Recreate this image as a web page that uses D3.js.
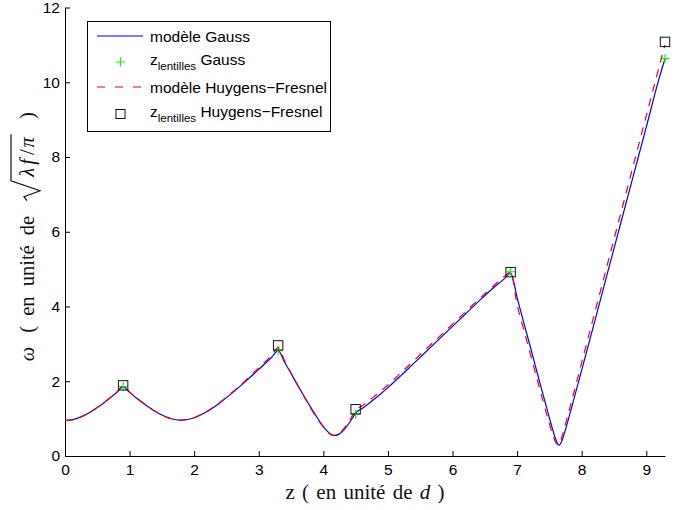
<!DOCTYPE html>
<html><head><meta charset="utf-8">
<script src="https://cdn.jsdelivr.net/npm/d3@7"></script>
<style>body{margin:0;background:#fff} svg{display:block} text{white-space:pre}</style>
</head><body><svg id="c" width="687" height="510"></svg>
<script>
// ---- data ----
const gaussZ = [0,0.1,0.2,0.3,0.4,0.5,0.6,0.7,0.8,0.9,
  1.0,1.1,1.2,1.3,1.4,1.5,1.6,1.7,1.8,1.9,2.0,2.2,2.4,2.6,2.8,3.0,3.2,3.3,
  3.4,3.5,3.6,3.7,3.8,3.9,4.0,4.05,4.1,4.15,4.18,4.25,4.3,4.35,4.4,4.45,4.5,
  4.6,4.7,4.8,4.9,5.0,5.2,5.4,5.6,5.8,6.0,6.2,6.4,6.6,6.8,6.9,
  7.0,7.1,7.2,7.3,7.4,7.5,7.55,7.6,7.65,7.7,7.75,7.8,7.9,8.0,8.2,8.4,8.6,8.8,9.0,9.2,9.29];
const gaussW = [0.95,0.966,1.013,1.087,1.182,1.295,1.42,1.555,1.697,1.85,
  1.703,1.561,1.427,1.302,1.19,1.095,1.022,0.976,0.96,0.976,1.022,1.19,1.427,1.703,2.003,2.318,2.642,2.82,
  2.51,2.207,1.904,1.606,1.315,1.038,0.789,0.685,0.605,0.558,0.55,0.592,0.667,0.767,0.883,1.011,1.15,
  1.27,1.40,1.54,1.68,1.83,2.15,2.48,2.81,3.14,3.47,3.80,4.13,4.45,4.74,4.90,
  4.24,3.59,2.95,2.30,1.655,1.02,0.713,0.436,0.29,0.436,0.713,1.02,1.655,2.30,3.59,4.90,6.20,7.50,8.80,10.11,10.63];

const hfZ = [0,0.1,0.2,0.3,0.4,0.5,0.6,0.7,0.8,0.9,
  1.0,1.1,1.2,1.3,1.4,1.5,1.6,1.7,1.8,1.9,2.0,2.2,2.4,2.6,2.8,3.0,3.2,3.3,
  3.4,3.5,3.6,3.7,3.8,3.9,4.0,4.05,4.1,4.15,4.2,4.25,4.3,4.35,4.4,4.45,4.5,
  4.6,4.7,4.8,4.9,5.0,5.2,5.4,5.6,5.8,6.0,6.2,6.4,6.6,6.8,6.9,
  7.0,7.1,7.2,7.3,7.4,7.5,7.55,7.6,7.63,7.67,7.7,7.75,7.8,7.9,8.0,8.2,8.4,8.6,8.8,9.0,9.2,9.29];
const hfW = [0.95,0.966,1.015,1.09,1.187,1.30,1.43,1.565,1.715,1.87,
  1.71,1.565,1.43,1.305,1.19,1.095,1.02,0.975,0.96,0.977,1.025,1.20,1.44,1.72,2.03,2.36,2.70,2.90,
  2.55,2.22,1.90,1.59,1.29,1.01,0.77,0.67,0.59,0.55,0.56,0.61,0.70,0.81,0.94,1.08,1.22,
  1.34,1.47,1.61,1.75,1.90,2.22,2.55,2.88,3.20,3.53,3.86,4.18,4.50,4.80,4.92,
  4.05,3.40,2.76,2.12,1.48,0.86,0.57,0.36,0.30,0.38,0.55,0.86,1.18,1.84,2.50,3.82,5.14,6.46,7.78,9.10,10.42,11.0];

const lensZ = [0.9, 3.3, 4.5, 6.9, 9.29];
const lensGaussW = [1.86, 2.82, 1.12, 4.93, 10.63];
const lensHFW = [1.89, 2.96, 1.25, 4.92, 11.08];

const xTicks = [0,1,2,3,4,5,6,7,8,9];
const yTicks = [0,2,4,6,8,10,12];
const legendLabels = ["modèle Gauss", "Gauss", "modèle Huygens−Fresnel", "Huygens−Fresnel"];

// ---- layout ----
const sans = "'Liberation Sans', Arial, Helvetica, sans-serif";
const serif = "'Liberation Serif', 'Times New Roman', serif";
const svg = d3.select("#c");
const x = d3.scaleLinear().domain([0, 9.29]).range([65, 665]);
const y = d3.scaleLinear().domain([0, 12]).range([456, 7.5]);

const gx = svg.append("g").attr("transform", `translate(0,${y(0)})`)
  .call(d3.axisBottom(x).tickValues(xTicks).tickFormat(d3.format("d")).tickSizeInner(-5).tickSizeOuter(0).tickPadding(8));
const gy = svg.append("g").attr("transform", `translate(${x(0)},0)`)
  .call(d3.axisLeft(y).tickValues(yTicks).tickFormat(d3.format("d")).tickSizeInner(-5).tickSizeOuter(0).tickPadding(5));
[gx, gy].forEach(g => {
  g.selectAll("text").attr("font-family", sans).attr("font-size", 15.5).attr("fill", "#000");
  g.selectAll("line").attr("stroke", "#000");
  g.select(".domain").attr("stroke", "#000");
});

// ---- curves ----
const line = d3.line().x(d => x(d[0])).y(d => y(d[1])).curve(d3.curveMonotoneX);
const gaussData = gaussZ.map((z, i) => [z, gaussW[i]]);
const hfData = hfZ.map((z, i) => [z, hfW[i]]);

svg.append("path").datum(gaussData).attr("d", line)
  .attr("fill", "none").attr("stroke", "#0000ff").attr("stroke-width", 1.2);

function plus(g, cx, cy, s) {
  g.append("path").attr("d", `M${cx - s},${cy}H${cx + s}M${cx},${cy - s}V${cy + s}`)
    .attr("stroke", "#00ff00").attr("stroke-width", 1.2).attr("fill", "none");
}
const gp = svg.append("g");
lensZ.forEach((z, i) => plus(gp, x(z), y(lensGaussW[i]), 4.5));

svg.append("path").datum(hfData).attr("d", line)
  .attr("fill", "none").attr("stroke", "#ff0000").attr("stroke-width", 1.2)
  .attr("stroke-dasharray", "8,7");

svg.append("g").selectAll("rect").data(lensZ).join("rect")
  .attr("x", (z) => x(z) - 4.7).attr("y", (z, i) => y(lensHFW[i]) - 4.7)
  .attr("width", 9.4).attr("height", 9.4)
  .attr("fill", "none").attr("stroke", "#111").attr("stroke-width", 1);

// ---- legend ----
const lg = svg.append("g");
lg.append("rect").attr("x", 87.5).attr("y", 21.5).attr("width", 243).attr("height", 110)
  .attr("fill", "#fff").attr("stroke", "#000").attr("stroke-width", 1);
lg.append("line").attr("x1", 97).attr("x2", 143).attr("y1", 36).attr("y2", 36)
  .attr("stroke", "#0000ff").attr("stroke-width", 1.2);
lg.append("text").attr("x", 150).attr("y", 41.5).attr("font-family", sans).attr("font-size", 15.5).text(legendLabels[0]);
plus(lg, 120.5, 62, 4.5);
const t2 = lg.append("text").attr("x", 150).attr("y", 64.5).attr("font-family", sans).attr("font-size", 15.5);
t2.append("tspan").text("z");
t2.append("tspan").attr("font-size", 11.5).attr("dy", 5.5).text("lentilles");
t2.append("tspan").attr("dy", -5.5).text(" " + legendLabels[1]);
lg.append("line").attr("x1", 97).attr("x2", 143).attr("y1", 87).attr("y2", 87)
  .attr("stroke", "#ff0000").attr("stroke-width", 1.2).attr("stroke-dasharray", "8,10");
lg.append("text").attr("x", 150).attr("y", 92.5).attr("font-family", sans).attr("font-size", 15.5).text(legendLabels[2]);
lg.append("rect").attr("x", 116).attr("y", 109.5).attr("width", 9).attr("height", 9)
  .attr("fill", "none").attr("stroke", "#111").attr("stroke-width", 1);
const t4 = lg.append("text").attr("x", 150).attr("y", 116.5).attr("font-family", sans).attr("font-size", 15.5);
t4.append("tspan").text("z");
t4.append("tspan").attr("font-size", 11.5).attr("dy", 5.5).text("lentilles");
t4.append("tspan").attr("dy", -5.5).text(" " + legendLabels[3]);

// ---- x label ----
const xl = svg.append("text").attr("x", (x(0) + x(9.29)) / 2).attr("y", 499)
  .attr("text-anchor", "middle").attr("font-family", serif).attr("font-size", 21)
  .attr("word-spacing", 2).attr("fill", "#111");
xl.append("tspan").text("z ( en unité de ");
xl.append("tspan").attr("font-style", "italic").text("d");
xl.append("tspan").text(" )");

// ---- y label with square root ----
const fs = 20.5;
const ylo = svg.append("g").attr("transform", `translate(34,${(y(0) + y(12)) / 2 + 5}) rotate(-90)`);
const yl = ylo.append("g");
let cx = 0;
function piece(str, italic) {
  const t = yl.append("text").attr("x", cx).attr("y", 0).attr("font-family", serif)
    .attr("font-size", fs).attr("font-style", italic ? "italic" : "normal").attr("fill", "#111")
    .attr("word-spacing", 5).text(str);
  cx += t.node().getComputedTextLength();
  return t;
}
piece("ω", true); cx += 4;
piece(" ( en unité de ", false);
cx += 5;
const r0 = cx;
cx += 24;
piece("λ", true); cx += 3;
piece("f", true); cx += 4;
piece("/", false); cx += 2;
piece("π", true);
const s1 = cx + 3;
yl.append("path").attr("d", `M${r0},${-7}L${r0 + 4},${-10}L${r0 + 10},${6}L${r0 + 20},${-23}L${s1},${-23}`)
  .attr("fill", "none").attr("stroke", "#111").attr("stroke-width", 1.2);
cx += 8;
piece(" )", false);
yl.attr("transform", `translate(${-cx / 2},0)`);
</script>
</body></html>
